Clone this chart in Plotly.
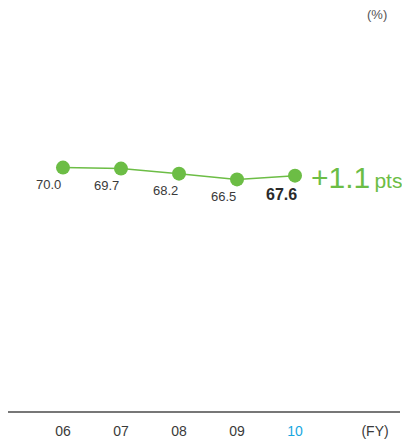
import plotly.graph_objects as go

years = ["06", "07", "08", "09", "10"]
values = [70.0, 69.7, 68.2, 66.5, 67.6]
change_label = "+1.1"
change_unit = "pts"
unit_label = "(%)"
fy_label = "(FY)"

GREEN = "#6cbd45"
TEXT = "#3a3a3a"
BLUE = "#19a7e0"

xs = list(range(len(years)))

fig = go.Figure()
fig.add_trace(go.Scatter(
    x=xs, y=values, mode="lines+markers",
    line=dict(color=GREEN, width=1.5),
    marker=dict(color=GREEN, size=14),
    hoverinfo="skip", showlegend=False, cliponaxis=False,
))

ticktext = [f"<span style='color:{BLUE}'>{y}</span>" if i == len(years) - 1 else y
            for i, y in enumerate(years)] + [fy_label]
tickvals = xs + [5.38]

annotations = []
for i, v in enumerate(values):
    last = i == len(values) - 1
    annotations.append(dict(
        x=i, y=v, xref="x", yref="y",
        text=f"<b>{v:.1f}</b>" if last else f"{v:.1f}",
        showarrow=False, xshift=-14, yshift=-17 if not last else -19,
        font=dict(size=16 if last else 13, color="#2a2a2a" if last else TEXT,
                  family="Liberation Sans"),
    ))
annotations.append(dict(
    x=xs[-1], y=values[-1], xref="x", yref="y", xanchor="left",
    text=f"{change_label}<span style='font-size:21px'>\u2009{change_unit}</span>",
    showarrow=False, xshift=14, yshift=-2,
    font=dict(size=30, color=GREEN, family="Liberation Sans"),
))
annotations.append(dict(
    x=1, y=1, xref="paper", yref="paper", xanchor="right", yanchor="bottom",
    text=unit_label, showarrow=False, xshift=-11, yshift=16,
    font=dict(size=13, color="#555", family="Liberation Sans"),
))

fig.update_layout(
    width=402, height=441,
    margin=dict(l=8, r=2, t=40, b=23),
    paper_bgcolor="white", plot_bgcolor="white",
    font=dict(family="Liberation Sans", color=TEXT, size=13),
    xaxis=dict(range=[-0.948, 5.81], tickvals=tickvals, ticktext=ticktext,
               showgrid=False, zeroline=False, showline=True,
               linecolor="#777", linewidth=2, ticks="", ticklabelstandoff=6,
               tickfont=dict(size=14, color=TEXT)),
    yaxis=dict(range=[-2.3, 107.9], visible=False, showgrid=False, zeroline=False),
    annotations=annotations,
)

fig.write_html("out.html", config={"displayModeBar": False},
               post_script="document.body.style.margin='0';document.body.style.overflow='hidden';")
